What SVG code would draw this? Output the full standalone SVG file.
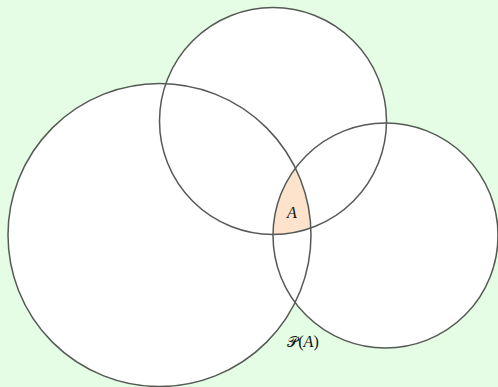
<svg xmlns="http://www.w3.org/2000/svg" width="498" height="387" viewBox="0 0 498 387">
<style>
.fillc{fill:#ffffff;stroke:none}
.ring{fill:none;stroke:#555a55;stroke-width:1.5}
.lbl{font-family:"Liberation Serif","DejaVu Serif",serif;font-style:italic;font-size:16px;fill:#111}
</style>
<defs>
<clipPath id="cTop"><circle cx="273" cy="121" r="113.5"/></clipPath>
<clipPath id="cRight"><circle cx="385.5" cy="235.5" r="112.5"/></clipPath>
</defs>
<rect width="498" height="387" fill="#e4fde4"/>
<g id="fills">
<circle class="fillc" cx="159.5" cy="235" r="151.5"/>
<circle class="fillc" cx="273" cy="121" r="113.5"/>
<circle class="fillc" cx="385.5" cy="235.5" r="112.5"/>
</g>
<g id="A-region" clip-path="url(#cTop)">
<g clip-path="url(#cRight)">
<circle cx="159.5" cy="235" r="151.5" fill="#fde3cc"/>
</g>
</g>
<g id="circleP">
<circle class="ring" cx="159.5" cy="235" r="151.5"/>
</g>
<g id="circleTop">
<circle class="ring" cx="273" cy="121" r="113.5"/>
</g>
<g id="circleRight">
<circle class="ring" cx="385.5" cy="235.5" r="112.5"/>
</g>
<g id="labels">
<text class="lbl" x="292" y="217.5" text-anchor="middle">A</text>
<text x="303" y="347" text-anchor="middle" font-family="'DejaVu Serif','Noto Sans',serif" font-size="15" fill="#111">𝒫<tspan font-family="'Liberation Serif',serif" font-size="16">(</tspan><tspan font-family="'Liberation Serif',serif" font-style="italic" font-size="16">A</tspan><tspan font-family="'Liberation Serif',serif" font-size="16">)</tspan></text>
</g>
</svg>
